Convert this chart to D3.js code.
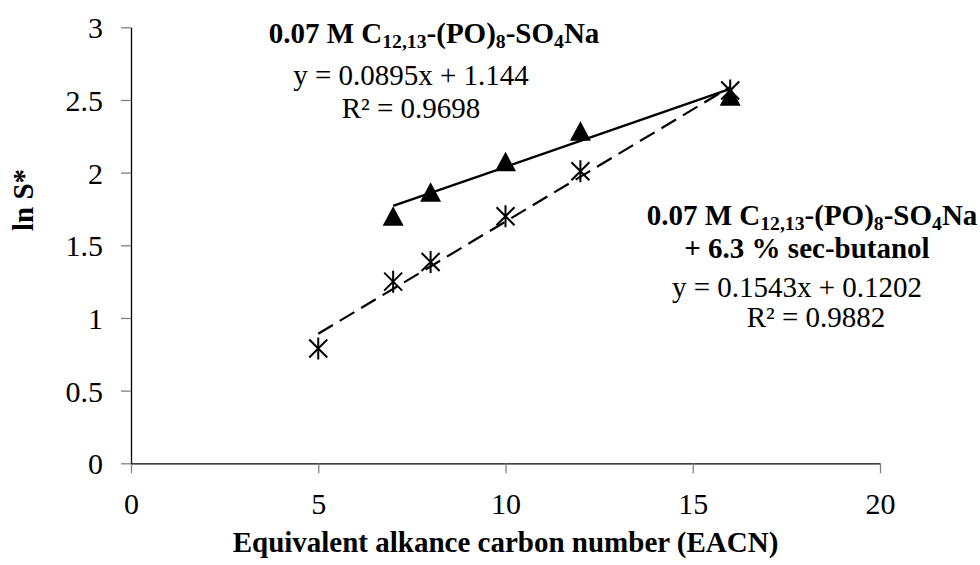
<!DOCTYPE html>
<html>
<head>
<meta charset="utf-8">
<script src="https://cdn.jsdelivr.net/npm/d3@7"></script>
<style>
  body { margin: 0; background: #fff; }
  svg text { font-family: "Liberation Serif", "Times New Roman", serif; fill: #000; }
</style>
</head>
<body>
<div id="chart"></div>
<script>
// data
const eacn = [7, 8, 10, 12, 16];
const lnSPlain = [1.70, 1.865, 2.075, 2.285, 2.525];

const eacnButanol = [5, 7, 8, 10, 12, 16];
const lnSButanol = [0.79, 1.25, 1.385, 1.70, 2.01, 2.565];

// trendlines: [slope, intercept], [x from, x to]
const fitPlain = [0.0895, 1.144];
const fitPlainRange = [7, 16];
const fitButanol = [0.1543, 0.1202];
const fitButanolRange = [5, 16];

const xTicks = [0, 5, 10, 15, 20];
const yTicks = [0, 0.5, 1, 1.5, 2, 2.5, 3];

const width = 980, height = 565;
const serif = '"Liberation Serif", "Times New Roman", serif';
const svg = d3.select('#chart').append('svg')
  .attr('width', width)
  .attr('height', height)
  .attr('font-family', serif);

const x = d3.scaleLinear().domain([0, 20]).range([131, 880]);
const y = d3.scaleLinear().domain([0, 3]).range([463.3, 27.3]);

// axes
const xAxis = svg.append('g')
  .attr('transform', `translate(0,${y(0)})`)
  .call(d3.axisBottom(x).tickValues(xTicks).tickSize(10).tickSizeOuter(0).tickFormat(d3.format('')));
const yAxis = svg.append('g')
  .attr('transform', `translate(${x(0)},0)`)
  .call(d3.axisLeft(y).tickValues(yTicks).tickSize(10).tickSizeOuter(0).tickFormat(d3.format('')));

[xAxis, yAxis].forEach(g => {
  g.attr('font-family', serif).attr('font-size', 30);
  g.select('.domain').attr('stroke', '#000').attr('stroke-width', 1.3);
  g.selectAll('.tick line').attr('stroke', '#808080').attr('stroke-width', 1.3);
  g.selectAll('.tick text')
    .style('font-family', serif)
    .style('font-size', '30px')
    .attr('fill', '#000');
});
xAxis.selectAll('.tick text').attr('y', 29).attr('dy', '0.71em');
yAxis.selectAll('.tick text').attr('x', -28).attr('dy', '0.35em');

// axis titles
svg.append('text')
  .attr('x', (x(0) + x(20)) / 2)
  .attr('y', 552)
  .attr('text-anchor', 'middle')
  .style('font-size', '29px')
  .style('font-weight', 'bold')
  .text('Equivalent alkance carbon number (EACN)');

svg.append('text')
  .attr('transform', 'translate(33,200) rotate(-90)')
  .attr('text-anchor', 'middle')
  .style('font-size', '29px')
  .style('font-weight', 'bold')
  .text('ln S*');

// trendlines
function fitLine(fit, range) {
  return range.map(v => [x(v), y(fit[0] * v + fit[1])]);
}
const line = d3.line();

svg.append('path')
  .attr('d', line(fitLine(fitPlain, fitPlainRange)))
  .attr('fill', 'none')
  .attr('stroke', '#000')
  .attr('stroke-width', 2.4);

svg.append('path')
  .attr('d', line(fitLine(fitButanol, fitButanolRange)))
  .attr('fill', 'none')
  .attr('stroke', '#000')
  .attr('stroke-width', 2.2)
  .attr('stroke-dasharray', '17,8');

// asterisk markers
const star = 'M-9,-9L9,9M9,-9L-9,9M0,-11L0,11';
svg.selectAll('path.star')
  .data(eacnButanol.map((v, i) => [v, lnSButanol[i]]))
  .join('path')
  .attr('class', 'star')
  .attr('transform', d => `translate(${x(d[0])},${y(d[1])})`)
  .attr('d', star)
  .attr('fill', 'none')
  .attr('stroke', '#000')
  .attr('stroke-width', 2);

// triangle markers
svg.selectAll('path.tri')
  .data(eacn.map((v, i) => [v, lnSPlain[i]]))
  .join('path')
  .attr('class', 'tri')
  .attr('transform', d => `translate(${x(d[0])},${y(d[1])})`)
  .attr('d', 'M0,-10L10.5,9.5L-10.5,9.5Z')
  .attr('fill', '#000');

// annotation blocks
function formula(g, cx, cy, size) {
  const t = g.append('text')
    .attr('x', cx).attr('y', cy)
    .attr('text-anchor', 'middle')
    .style('font-size', size + 'px')
    .style('font-weight', 'bold');
  const parts = [['0.07 M C', 0], ['12,13', 1], ['-(PO)', 0], ['8', 1], ['-SO', 0], ['4', 1], ['Na', 0]];
  let sub = false;
  parts.forEach(([s, isSub]) => {
    const ts = t.append('tspan').text(s);
    if (isSub && !sub) ts.attr('dy', 5);
    if (!isSub && sub) ts.attr('dy', -5);
    if (isSub) ts.style('font-size', (size * 0.68) + 'px');
    sub = !!isSub;
  });
}

const notes = svg.append('g');
formula(notes, 434, 43, 29);
notes.append('text').attr('x', 411).attr('y', 85).attr('text-anchor', 'middle')
  .style('font-size', '29px').text('y = 0.0895x + 1.144');
notes.append('text').attr('x', 411).attr('y', 118).attr('text-anchor', 'middle')
  .style('font-size', '29px').text('R² = 0.9698');

formula(notes, 812, 225, 29);
notes.append('text').attr('x', 807).attr('y', 258).attr('text-anchor', 'middle')
  .style('font-size', '29px').style('font-weight', 'bold').text('+ 6.3 % sec-butanol');
notes.append('text').attr('x', 797).attr('y', 297).attr('text-anchor', 'middle')
  .style('font-size', '29px').text('y = 0.1543x + 0.1202');
notes.append('text').attr('x', 816).attr('y', 327).attr('text-anchor', 'middle')
  .style('font-size', '29px').text('R² = 0.9882');
</script>
</body>
</html>
